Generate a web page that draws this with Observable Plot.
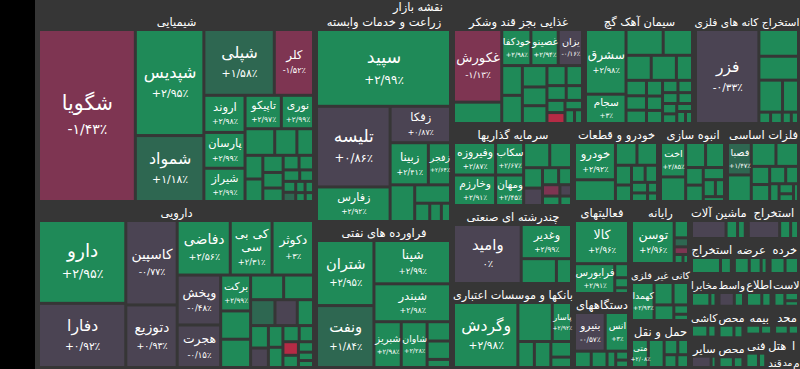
<!DOCTYPE html>
<html><head><meta charset="utf-8">
<script src="https://cdn.jsdelivr.net/npm/d3@7"></script>
<script src="https://cdn.jsdelivr.net/npm/@observablehq/plot@0.6"></script>
<style>html,body{margin:0;padding:0;background:#000;overflow:hidden}</style>
</head><body>
<script>
const title = "نقشه بازار";
const sectorNames = ["شیمیایی","دارویی","زراعت و خدمات وابسته","فراورده های نفتی","غذایی بجز قند وشکر","سیمان آهک گچ","استخراج کانه های فلزی","سرمایه گذاریها","چندرشته ای صنعتی","بانکها و موسسات اعتباری","خودرو و قطعات","انبوه سازی","فلزات اساسی","فعالیتهای","دستگاههای","رایانه","کانی غیر فلزی","حمل و نقل","ماشین آلات","استخراج","استخراج","عرضه","خرده","مخابرا","کاشی","سایر","واسط","اطلاع","لاست","محص","محص","بیمه","محد","فنی","هتل","ا","قند","مد","م"];
const sectorSizes = [53098,46148,28907,20002,14916,12430,11978,9922,9438,10164,6708,5226,5772,5244,4218,3720,3420,2820,2100,1970,1500,1250,1100,900,850,835,900,900,900,850,800,800,750,760,350,250,220,160,114];

// [name, size, change %]
const shimiyai = [["شگویا",15810,-1.43],["شپدیس",6900,2.95],["شمواد",4290,1.18],["شپلی",4400,1.58],["کلر",2450,-1.52],["اروند",1450,2.98],["پارسان",1400,2.99],["شیراز",1300,2.99],["تاپیکو",1150,2.97],["نوری",1020,2.99],["",750,2.9],["",560,2.9],["",420,2.9],["",400,2.9],["",380,2.9],["",330,2.9],["",300,2.9],["",260,2.9],["",220,2.9],["",200,2.9],["",180,2.9],["",150,2.9],["",130,2.9],["",110,1.5],["",100,2.9],["",90,2.9],["",80,2.9],["",70,2.9]];
const daruyi = [["دارو",6880,2.95],["دفارا",5330,0.92],["کاسپین",4130,-0.77],["دتوزیع",3060,0.93],["دفاضی",2756,2.56],["کی بی\nسی",2170,2.31],["دکوثر",2150,3],["وپخش",2068,-0.48],["هجرت",1760,-0.15],["برکت",1023,2.99],["",806,2.9],["",806,2.9],["",775,2.9],["",700,2.9],["",600,1.5],["",550,0.5],["",400,2.9],["",380,2.9],["",330,0.3],["",300,2.9],["",280,2.9],["",250,2.9],["",220,2.9],["",200,-2.5],["",180,2.9],["",150,2.9],["",120,2.9],["",100,2.9]];
const zeraat = [["سپید",9709,2.99],["تلیسه",5600,0.86],["زفارس",2400,2.92],["زفکا",2074,0.87],["زبینا",1520,2.41],["زفجر",880,2.64],["",850,2.9],["",620,2.9],["",260,2.9],["",200,2.9],["",158,2.9]];
const naft = [["شتران",3472,2.95],["ونفت",3304,1.84],["شپنا",3080,2.99],["شبندر",2695,2.98],["شبریز",1161,2.98],["شاوان",1100,2.28],["",420,2.9],["",400,2.9],["",176,2.9]];
const ghaza = [["غکورش",3200,-1.13],["",940,2.9],["خودکفا",960,2.98],["غصینو",900,2.94],["یزان",800,-0.16],["",560,2.9],["",530,2.9],["",480,2.9],["",420,2.9],["",400,2.9],["",350,2.9],["",300,2.9],["",260,2.9],["",220,2.9],["",200,2.9],["",180,-2.5],["",150,2.9],["",120,2.9],["",100,2.9]];
const siman = [["سشرق",2496,2.98],["سجام",1131,3],["",912,2.9],["",720,2.9],["",600,2.9],["",600,2.9],["",384,2.9],["",300,2.9],["",280,2.9],["",260,2.9],["",240,2.9],["",220,2.9],["",200,2.9],["",180,2.9],["",170,2.9],["",160,2.9],["",150,2.9],["",140,2.9],["",130,2.9],["",120,2.9],["",100,2.9],["",80,2.9]];
const kane = [["فزر",5828,-0.33],["",1036,2.9],["",925,2.9],["",740,2.9],["",500,2.9],["",130,2.9],["",130,2.9],["",100,2.9],["",80,2.9]];
const sarmaye = [["وفیروزه",1248,2.87],["وخارزم",1170,2.91],["سکاب",832,2.67],["ومهان",780,2.45],["",600,2.9],["",500,2.9],["",350,2.9],["",300,0.3],["",250,2.9],["",200,2.9],["",180,-1.5],["",150,2.9],["",120,0.2],["",100,2.9]];
const chand = [["وامید",3835,0],["وغدیر",1650,2.99],["",840,2.9],["",360,2.9]];
const bank = [["وگردش",3900,2.98],["",1250,2.9],["پاسار",700,2.92],["",400,2.9],["",400,2.9],["",300,2.9],["",200,2.9]];
const khodro = [["خودرو",1440,2.92],["",840,2.9],["",462,2.9],["",441,2.9],["",300,2.9],["",250,2.9],["",220,2.9],["",200,2.9],["",160,2.9],["",130,2.9],["",100,2.9],["",80,2.9]];
const anbooh = [["اخت",840,2.85],["",600,2.9],["",483,2.9],["",460,2.9],["",300,2.9],["",280,2.9],["",250,2.9],["",200,2.9],["",150,2.9],["",100,2.9]];
const felezat = [["فصبا",693,1.47],["",567,2.9],["",529,2.9],["",483,2.9],["",300,2.9],["",280,2.9],["",250,2.9],["",200,2.9],["",150,2.9],["",130,2.9],["",100,2.9],["",80,2.9]];
const faaliat = [["کالا",2365,2.96],["فرابورس",1218,2.91],["",196,2.9],["",140,2.9],["",80,2.9]];
const dastgah = [["بنیرو",1250,-0.57],["انس",950,3],["",288,2.9],["",272,2.9],["",150,2.9],["",120,2.9],["",100,2.9]];
const rayane = [["توسن",1849,2.96],["",250,2.9],["",130,1.3],["",110,-1.6],["",80,2.9],["",50,2.9]];
const kani = [["کهمدا",936,2.93],["",465,2.9],["",378,2.9],["",336,2.9],["",150,2.9],["",100,2.9]];
const haml = [["متی",476,2.08],["",448,2.9],["",210,2.9],["",165,2.9],["",165,2.9],["",150,2.9]];
const mashin = [["",900,0.4],["",300,2.9],["",200,2.9]];
const estekhraj1 = [["",1000,-0.3],["",350,2.9],["",250,2.9]];
const estekhraj2 = [["",800,2.9],["",300,2.9]];
const arze = [["",500,2.9],["",400,2.9],["",200,2.9]];
const khorde = [["",500,2.9],["",450,2.9]];
const mokhaberat = [["",600,2.9],["",200,2.9]];
const kashi = [["",500,2.9],["",250,2.9]];
const sayer = [["",600,0.2],["",150,2.9]];
const vaseteh = [["",500,0.4],["",300,2.9]];
const etelaat = [["",500,2.9],["",300,2.9]];
const lastik = [["",400,2.9],["",300,2.9],["",200,2.9]];
const mahsul1 = [["",500,2.9],["",300,2.9]];
const mahsul2 = [["",450,2.9],["",300,2.9]];
const bime = [["",400,2.9],["",300,2.9]];
const mahd = [["",400,2.9],["",300,2.9]];
const fani = [["",450,2.9],["",260,2.9]];
const hotel = [["",230,2.9],["",100,2.9]];
const alef = [["",200,2.9]];
const ghand = [["",150,2.9]];
const mad = [["",160,2.9]];
const mim = [["",114,2.9]];
const sectorStocks = [shimiyai,daruyi,zeraat,naft,ghaza,siman,kane,sarmaye,chand,bank,khodro,anbooh,felezat,faaliat,dastgah,rayane,kani,haml,mashin,estekhraj1,estekhraj2,arze,khorde,mokhaberat,kashi,sayer,vaseteh,etelaat,lastik,mahsul1,mahsul2,bime,mahd,fani,hotel,alef,ghand,mad,mim];

const colorDomain = [-2, -1, 1, 2];
const colorRange = ["#b52b45", "#7e3552", "#4b4453", "#2e6751", "#1f8a58"];
const FONT = "DejaVu Sans";

const W = 765, H = 369;
const root = d3.hierarchy({children: sectorNames.map((name, i) => ({name, size: sectorSizes[i], stocks: sectorStocks[i]}))})
  .sum(d => d.size || 0);
d3.treemap().size([W, H]).paddingTop(12).paddingLeft(2).tile(d3.treemapSquarify.ratio(1))(root);

const ctx = document.createElement("canvas").getContext("2d");
function textWidth(t, size) {
  ctx.font = `${size}px "${FONT}"`;
  return d3.max(t.split("\n"), l => ctx.measureText(l).width) || 1;
}

const cells = [];
const sectorLabels = [];
for (const s of root.children) {
  const sw = s.x1 - s.x0, sh = s.y1 - s.y0;
  const sfs = Math.max(6, Math.min(11.5, 11.5 * (sw - 1) / textWidth(s.data.name, 11.5)));
  const sx = Math.min((s.x0 + s.x1) / 2, W - textWidth(s.data.name, sfs) / 2 - 1);
  sectorLabels.push({name: s.data.name, x: sx, y: Math.min(s.y0 + 10, H - 6), fs: sfs});
  const sub = d3.hierarchy({children: s.data.stocks.map(([name, size, change]) => ({name, size, change}))})
    .sum(d => d.size || 0);
  d3.treemap().size([sw, sh]).paddingTop(19).paddingLeft(3).paddingRight(3).paddingBottom(3).paddingInner(3)
    .tile(d3.treemapSquarify.ratio(1))(sub);
  for (const c of sub.children) {
    cells.push({name: c.data.name, change: c.data.change,
      x0: s.x0 + c.x0, x1: s.x0 + c.x1, y0: s.y0 + c.y0, y1: s.y0 + c.y1});
  }
}

const faDigits = "۰۱۲۳۴۵۶۷۸۹";
function fmt(v) {
  if (v === 0) return "۰٪";
  return (v > 0 ? "+" : "-") + String(Math.abs(v)).replace(".", "/").replace(/\d/g, d => faDigits[d]) + "٪";
}

const nameLabels = [], pctLabels = [];
for (const c of cells) {
  if (!c.name) continue;
  const w = c.x1 - c.x0, h = c.y1 - c.y0;
  if (h < 14 || w < 8) continue;
  const lines = c.name.split("\n");
  let fs = Math.min(21, 0.15 * Math.min(w, h) + 6.5, 10 * (w + 2) / textWidth(c.name, 10));
  fs = Math.max(fs, 7);
  const pct = fmt(c.change);
  const pfs = Math.max(6, Math.min(fs * 0.68, 10 * (w + 1) / textWidth(pct, 10)));
  const n = lines.length, L = 1.05 * fs;
  const span = (n - 1) * L + 1.3 * fs;
  const cx = (c.x0 + c.x1) / 2, cy = (c.y0 + c.y1) / 2;
  const first = cy - span / 2;
  nameLabels.push({text: c.name, x: cx, y: first + (n - 1) * L / 2, fs});
  pctLabels.push({text: pct, x: cx, y: first + span, fs: pfs});
}

const chart = Plot.plot({
  width: 800, height: 369, margin: 0,
  x: {domain: [0, W], range: [35, 800], axis: null},
  y: {domain: [0, H], range: [0, 369], axis: null},
  color: {type: "threshold", domain: colorDomain, range: colorRange},
  style: {background: "#000", fontFamily: FONT},
  marks: [
    Plot.rect([root], {x1: "x0", x2: "x1", y1: "y0", y2: "y1", fill: "#363636"}),
    Plot.rect(cells, {x1: "x0", x2: "x1", y1: "y0", y2: "y1", fill: "change"}),
    Plot.text(sectorLabels, {x: "x", y: "y", text: "name", fill: "#fff", fontSize: d => d.fs, fontFamily: FONT}),
    Plot.text(nameLabels, {x: "x", y: "y", text: "text", fill: "#fff", fontSize: d => d.fs, lineHeight: 1.05, fontFamily: FONT}),
    Plot.text(pctLabels, {x: "x", y: "y", text: "text", fill: "#fff", fontSize: d => d.fs, fontFamily: FONT}),
    Plot.text([title], {x: () => (root.x0 + root.x1) / 2, y: () => root.y0 + 6.5, text: d => d, fill: "#fff", fontSize: 11.5, fontFamily: FONT})
  ]
});
document.body.appendChild(chart);
</script>
</body></html>
